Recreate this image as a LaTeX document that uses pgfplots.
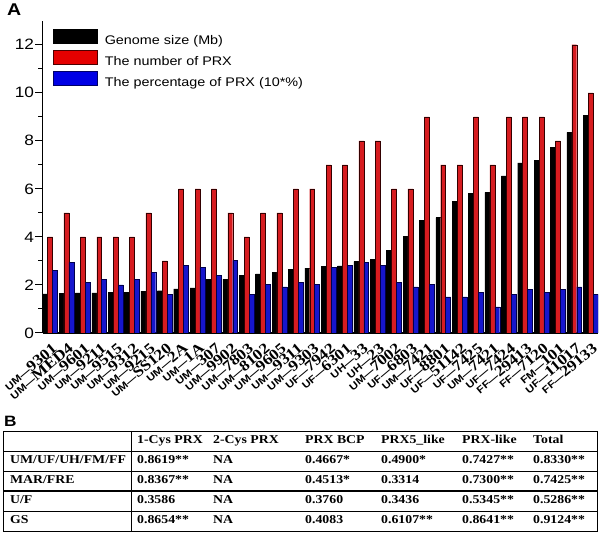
\documentclass[border=0pt]{standalone}
\usepackage{pgfplots}
\usepackage{pgfplotstable}
\pgfplotsset{compat=1.18}
\usepackage{fontspec}
\setmainfont{Liberation Serif}[FakeStretch=1.15]
\setsansfont{Liberation Sans}[FakeStretch=1.15]
\definecolor{prxred}{RGB}{215,28,32}
\definecolor{prxblue}{RGB}{22,22,205}
\newcommand{\xl}[2]{{\sffamily\bfseries\fontsize{10}{10}\selectfont #1---}{\rmfamily\bfseries\fontsize{15}{15}\selectfont #2}}
\newcommand{\tf}{\rmfamily\bfseries\fontsize{12}{12}\selectfont}

\pgfplotstableread{
x gs num pct
1 1.63 4 2.62
2 1.66 5 2.93
3 1.67 4 2.10
4 1.67 4 2.22
5 1.70 4 2.00
6 1.70 4 2.22
7 1.74 5 2.52
8 1.76 3 1.60
9 1.84 6 2.83
10 1.88 6 2.73
11 2.23 6 2.41
12 2.24 5 3.02
13 2.39 4 1.60
14 2.46 5 2.02
15 2.52 5 1.92
16 2.64 6 2.12
17 2.70 6 2.02
18 2.77 7 2.73
19 2.79 7 2.83
20 2.97 8 2.93
21 3.06 8 2.83
22 3.45 6 2.12
23 4.01 6 1.92
24 4.68 9 2.02
25 4.80 7 1.50
26 5.47 7 1.50
27 5.81 9 1.70
28 5.85 7 1.09
29 6.54 9 1.60
30 7.08 9 1.81
31 7.19 9 1.70
32 7.74 8 1.81
33 8.35 12 1.92
34 9.07 10 1.60
}\datatable

\begin{document}
\begin{tikzpicture}
\useasboundingbox (0,0) rectangle (600pt,-534pt);
\node[anchor=north west, inner sep=0pt] at (7pt,-4pt) {\sffamily\bfseries\fontsize{17}{17}\selectfont A};
\begin{axis}[
  at={(42.7pt,-333pt)}, anchor=south west,
  scale only axis, width=555.3pt, height=312.3pt,
  xmin=0.55, xmax=34.45, ymin=0, ymax=13,
  axis x line*=bottom, axis y line*=left,
  axis line style={line width=1.1pt},
  xtick={1,...,34},
  xticklabels={\xl{UM}{9301},\xl{UM}{MED4},\xl{UM}{9601},\xl{UM}{9211},\xl{UM}{9515},\xl{UM}{9312},\xl{UM}{9215},\xl{UM}{SS120},\xl{UM}{2A},\xl{UM}{1A},\xl{UM}{307},\xl{UM}{9902},\xl{UM}{7803},\xl{UM}{8102},\xl{UM}{9605},\xl{UM}{9311},\xl{UM}{9303},\xl{UF}{7942},\xl{UF}{6301},\xl{UH}{33},\xl{UH}{23},\xl{UM}{7002},\xl{UF}{6803},\xl{UM}{7421},\xl{UF}{8801},\xl{UF}{51142},\xl{UF}{7425},\xl{UM}{7421},\xl{UF}{7424},\xl{FF}{29413},\xl{FF}{7120},\xl{FM}{101},\xl{UF}{11017},\xl{FF}{29133}},
  ytick={0,2,...,12}, minor ytick={1,3,...,11},
  tick align=outside,
  major tick length=7.5pt, minor tick length=4.5pt,
  tick style={line width=1pt, black},
  xtick style={draw=none},
  /pgf/number format/assume math mode=true,
  yticklabel style={font=\sffamily\fontsize{15}{15}\selectfont, inner sep=0pt, xshift=-1pt},
  xticklabel style={rotate=40, anchor=north east, inner sep=0pt, xshift=0pt, yshift=-2pt},
  legend style={at={(0.01855,0.9734)}, anchor=north west, draw=none, fill=none, inner sep=0pt,
    row sep=4.5pt, column sep=7pt, font=\sffamily\fontsize{12.5}{12.5}\selectfont, nodes={inner sep=0pt}},
  legend cell align=left,
]
\addplot[ybar, bar width=0.3, bar shift=-0.3, fill=black, draw=black, line width=0.4pt,
  legend image code/.code={\draw[fill=black, draw=black, line width=0.6pt] (0pt,-3pt) rectangle (44pt,11pt);}]
  table[x=x, y=gs] {\datatable};
\addlegendentry{Genome size (Mb)}
\addplot[ybar, bar width=0.3, bar shift=0, fill=prxred, draw=black!80!red, line width=0.4pt,
  legend image code/.code={\draw[fill=red!90!black, draw=black!70!red, line width=0.6pt] (0pt,-3pt) rectangle (44pt,11pt);}]
  table[x=x, y=num] {\datatable};
\addlegendentry{The number of PRX}
\addplot[ybar, bar width=0.3, bar shift=0.3, fill=prxblue, draw=black!70!blue, line width=0.4pt,
  legend image code/.code={\draw[fill=blue!90!black, draw=black!60!blue, line width=0.6pt] (0pt,-3pt) rectangle (44pt,11pt);}]
  table[x=x, y=pct] {\datatable};
\addlegendentry{The percentage of PRX (10*\%)}
\end{axis}

% Panel B: table
\node[anchor=north west, inner sep=0pt] at (4pt,-416pt) {\sffamily\bfseries\fontsize{15}{15}\selectfont B};
\draw[line width=0.8pt] (3pt,-431pt) rectangle (597pt,-531pt);
\draw[line width=0.7pt] (3pt,-451pt) -- (597pt,-451pt);
\draw[line width=0.7pt] (3pt,-471pt) -- (597pt,-471pt);
\draw[line width=1.7pt] (3pt,-491pt) -- (597pt,-491pt);
\draw[line width=0.7pt] (3pt,-511pt) -- (597pt,-511pt);
\draw[line width=0.7pt] (131pt,-431pt) -- (131pt,-531pt);
% header
\node[anchor=mid west, inner sep=0pt] at (137pt,-441pt) {\tf 1-Cys PRX};
\node[anchor=mid west, inner sep=0pt] at (213pt,-441pt) {\tf 2-Cys PRX};
\node[anchor=mid west, inner sep=0pt] at (305pt,-441pt) {\tf PRX BCP};
\node[anchor=mid west, inner sep=0pt] at (381pt,-441pt) {\tf PRX5\_like};
\node[anchor=mid west, inner sep=0pt] at (462pt,-441pt) {\tf PRX-like};
\node[anchor=mid west, inner sep=0pt] at (533pt,-441pt) {\tf Total};
% row 1
\node[anchor=mid west, inner sep=0pt] at (10pt,-461pt) {\tf UM/UF/UH/FM/FF};
\node[anchor=mid west, inner sep=0pt] at (137pt,-461pt) {\tf 0.8619**};
\node[anchor=mid west, inner sep=0pt] at (213pt,-461pt) {\tf NA};
\node[anchor=mid west, inner sep=0pt] at (305pt,-461pt) {\tf 0.4667*};
\node[anchor=mid west, inner sep=0pt] at (381pt,-461pt) {\tf 0.4900*};
\node[anchor=mid west, inner sep=0pt] at (462pt,-461pt) {\tf 0.7427**};
\node[anchor=mid west, inner sep=0pt] at (533pt,-461pt) {\tf 0.8330**};
% row 2
\node[anchor=mid west, inner sep=0pt] at (10pt,-481pt) {\tf MAR/FRE};
\node[anchor=mid west, inner sep=0pt] at (137pt,-481pt) {\tf 0.8367**};
\node[anchor=mid west, inner sep=0pt] at (213pt,-481pt) {\tf NA};
\node[anchor=mid west, inner sep=0pt] at (305pt,-481pt) {\tf 0.4513*};
\node[anchor=mid west, inner sep=0pt] at (381pt,-481pt) {\tf 0.3314};
\node[anchor=mid west, inner sep=0pt] at (462pt,-481pt) {\tf 0.7300**};
\node[anchor=mid west, inner sep=0pt] at (533pt,-481pt) {\tf 0.7425**};
% row 3
\node[anchor=mid west, inner sep=0pt] at (10pt,-501pt) {\tf U/F};
\node[anchor=mid west, inner sep=0pt] at (137pt,-501pt) {\tf 0.3586};
\node[anchor=mid west, inner sep=0pt] at (213pt,-501pt) {\tf NA};
\node[anchor=mid west, inner sep=0pt] at (305pt,-501pt) {\tf 0.3760};
\node[anchor=mid west, inner sep=0pt] at (381pt,-501pt) {\tf 0.3436};
\node[anchor=mid west, inner sep=0pt] at (462pt,-501pt) {\tf 0.5345**};
\node[anchor=mid west, inner sep=0pt] at (533pt,-501pt) {\tf 0.5286**};
% row 4
\node[anchor=mid west, inner sep=0pt] at (10pt,-521pt) {\tf GS};
\node[anchor=mid west, inner sep=0pt] at (137pt,-521pt) {\tf 0.8654**};
\node[anchor=mid west, inner sep=0pt] at (213pt,-521pt) {\tf NA};
\node[anchor=mid west, inner sep=0pt] at (305pt,-521pt) {\tf 0.4083};
\node[anchor=mid west, inner sep=0pt] at (381pt,-521pt) {\tf 0.6107**};
\node[anchor=mid west, inner sep=0pt] at (462pt,-521pt) {\tf 0.8641**};
\node[anchor=mid west, inner sep=0pt] at (533pt,-521pt) {\tf 0.9124**};
\end{tikzpicture}
\end{document}
